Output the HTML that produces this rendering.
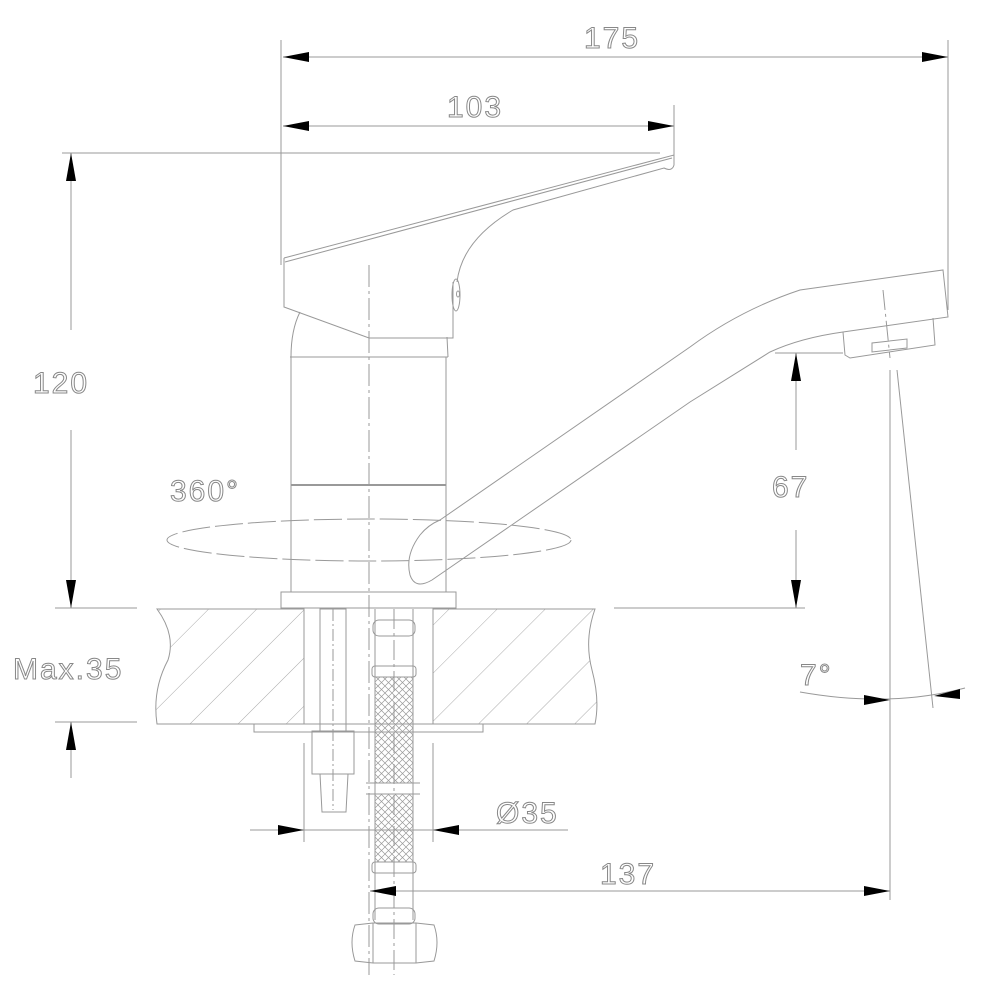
<!DOCTYPE html>
<html><head><meta charset="utf-8"><style>
html,body{margin:0;padding:0;background:#fff;}
svg{display:block;}
text{font-family:"Liberation Sans",sans-serif;fill:none;stroke:#888;stroke-width:1;font-size:30px;letter-spacing:2px;}
</style></head><body>
<svg width="1000" height="1000" viewBox="0 0 1000 1000" xmlns="http://www.w3.org/2000/svg">
<defs>
<pattern id="hatch" patternUnits="userSpaceOnUse" width="34" height="34" patternTransform="rotate(45)">
<line x1="0" y1="0" x2="0" y2="34" stroke="#aaa" stroke-width="1"/>
</pattern>
<pattern id="mesh" patternUnits="userSpaceOnUse" width="7" height="7">
<path d="M0 0L7 7M7 0L0 7" stroke="#999" stroke-width="0.7"/>
</pattern>
</defs>
<g fill="none" stroke="#999" stroke-width="1">
<line x1="281" y1="40" x2="281" y2="265"/>
<line x1="948" y1="40" x2="948" y2="310"/>
<line x1="674" y1="105" x2="674" y2="165"/>
<line x1="62" y1="153" x2="660" y2="153"/>
<line x1="55" y1="608" x2="137" y2="608"/>
<line x1="55" y1="722" x2="137" y2="722"/>
<line x1="614" y1="608" x2="805" y2="608"/>
<line x1="775" y1="353" x2="843" y2="353"/>
<line x1="283" y1="57" x2="948" y2="57"/>
<line x1="283" y1="126" x2="674" y2="126"/>
<line x1="71" y1="153" x2="71" y2="330"/>
<line x1="71" y1="430" x2="71" y2="608"/>
<line x1="71" y1="722" x2="71" y2="778"/>
<line x1="796" y1="353" x2="796" y2="450"/>
<line x1="796" y1="530" x2="796" y2="608"/>
<line x1="250" y1="830" x2="568" y2="830"/>
<line x1="304" y1="743" x2="304" y2="842"/>
<line x1="433" y1="743" x2="433" y2="842"/>
<line x1="370" y1="891" x2="890" y2="891"/>
<line x1="890" y1="370" x2="890" y2="900"/>
<line x1="897" y1="370" x2="933" y2="708"/>
<path d="M800 692 Q890 708 965 688"/>
<line x1="369" y1="265" x2="369" y2="975" stroke-dasharray="22,4,3,4"/>
<path d="M284 258 L674 155 L674 165 Q672 172 664 168 L513 210 Q462 240 457 282"/>
<line x1="285" y1="262" x2="672" y2="158"/>
<path d="M284 258 L284 307 L369 338 L453 338 L453 282"/>
<ellipse cx="456" cy="295" rx="4" ry="16"/>
<ellipse cx="458" cy="294" rx="1.5" ry="3"/>
<path d="M300 312 Q291 330 291 357 M447 337 L448 357"/>
<line x1="290" y1="357" x2="448" y2="357"/>
<rect x="291" y="357" width="155" height="235"/>
<line x1="291" y1="485" x2="446" y2="485" stroke-width="2"/>
<rect x="281" y="592" width="175" height="16"/>
<ellipse cx="369" cy="540" rx="202" ry="21" stroke-dasharray="28,5"/>
<path d="M440 520 L690 347 Q740 310 800 290 L943 270 L948 317 L843 332 Q800 338 770 352 L690 402 L432 580 Q415 590 410 575 Q405 555 420 535 Q428 525 440 520"/>
<path d="M843 332 L845 355 L850 358 L935 345 L933 318"/>
<path d="M872 343 L872 352 L907 348 L907 339 Z"/>
<line x1="883" y1="290" x2="890" y2="358" stroke-dasharray="20,4,3,4"/>
<path d="M157 609 L304 609 L304 724 L157 724 Q152 690 168 660 Q176 635 157 609 Z" fill="url(#hatch)"/>
<path d="M433 609 L595 609 Q584 640 592 670 Q600 700 595 724 L433 724 Z" fill="url(#hatch)"/>
<line x1="304" y1="724" x2="433" y2="724"/>
<rect x="254" y="724" width="229" height="8"/>
<rect x="320" y="609" width="26" height="122"/>
<line x1="333" y1="609" x2="333" y2="810" stroke-dasharray="12,3,2,3"/>
<path d="M312 731 L354 731 L354 774 L312 774 Z"/>
<path d="M320 774 L322 812 L346 812 L348 774"/>
<line x1="394" y1="609" x2="394" y2="975" stroke-dasharray="20,4,3,4"/>
<line x1="375" y1="609" x2="375" y2="920"/>
<line x1="413" y1="609" x2="413" y2="920"/>
<rect x="375" y="677" width="38" height="106" fill="url(#mesh)"/>
<rect x="375" y="794" width="38" height="68" fill="url(#mesh)"/>
<rect x="372" y="666" width="44" height="11" rx="3"/>
<rect x="372" y="862" width="44" height="11" rx="3"/>
<rect x="373" y="620" width="42" height="16" rx="6"/>
<rect x="373" y="908" width="42" height="16" rx="6"/>
<line x1="366" y1="783" x2="420" y2="783"/>
<line x1="366" y1="794" x2="420" y2="794"/>
<path d="M355 925 L373 923 L416 923 L434 925 Q440 942 434 961 L416 963 L373 963 L355 961 Q349 942 355 925 Z"/>
<line x1="373" y1="923" x2="373" y2="963"/><line x1="416" y1="923" x2="416" y2="963"/>
</g>
<g fill="#000">
<polygon points="283,57 309,52 309,62"/>
<polygon points="948,57 922,52 922,62"/>
<polygon points="283,126 309,121 309,131"/>
<polygon points="674,126 648,121 648,131"/>
<polygon points="71,153 66,181 76,181"/>
<polygon points="71,608 66,580 76,580"/>
<polygon points="71,722 66,750 76,750"/>
<polygon points="796,353 791,381 801,381"/>
<polygon points="796,608 791,580 801,580"/>
<polygon points="304,830 278,825 278,835"/>
<polygon points="433,830 459,825 459,835"/>
<polygon points="370,891 396,886 396,896"/>
<polygon points="890,891 864,886 864,896"/>
<polygon points="890,700 864,695 864,705"/>
<polygon points="934,696 960,689 960,699"/>
</g>
<text x="584" y="48">175</text>
<text x="447" y="117">103</text>
<text x="33" y="393">120</text>
<text x="13" y="679">Max.35</text>
<text x="170" y="501">360°</text>
<text x="772" y="497">67</text>
<text x="800" y="685">7°</text>
<text x="496" y="823">Ø35</text>
<text x="600" y="884">137</text>
</svg>
</body></html>
